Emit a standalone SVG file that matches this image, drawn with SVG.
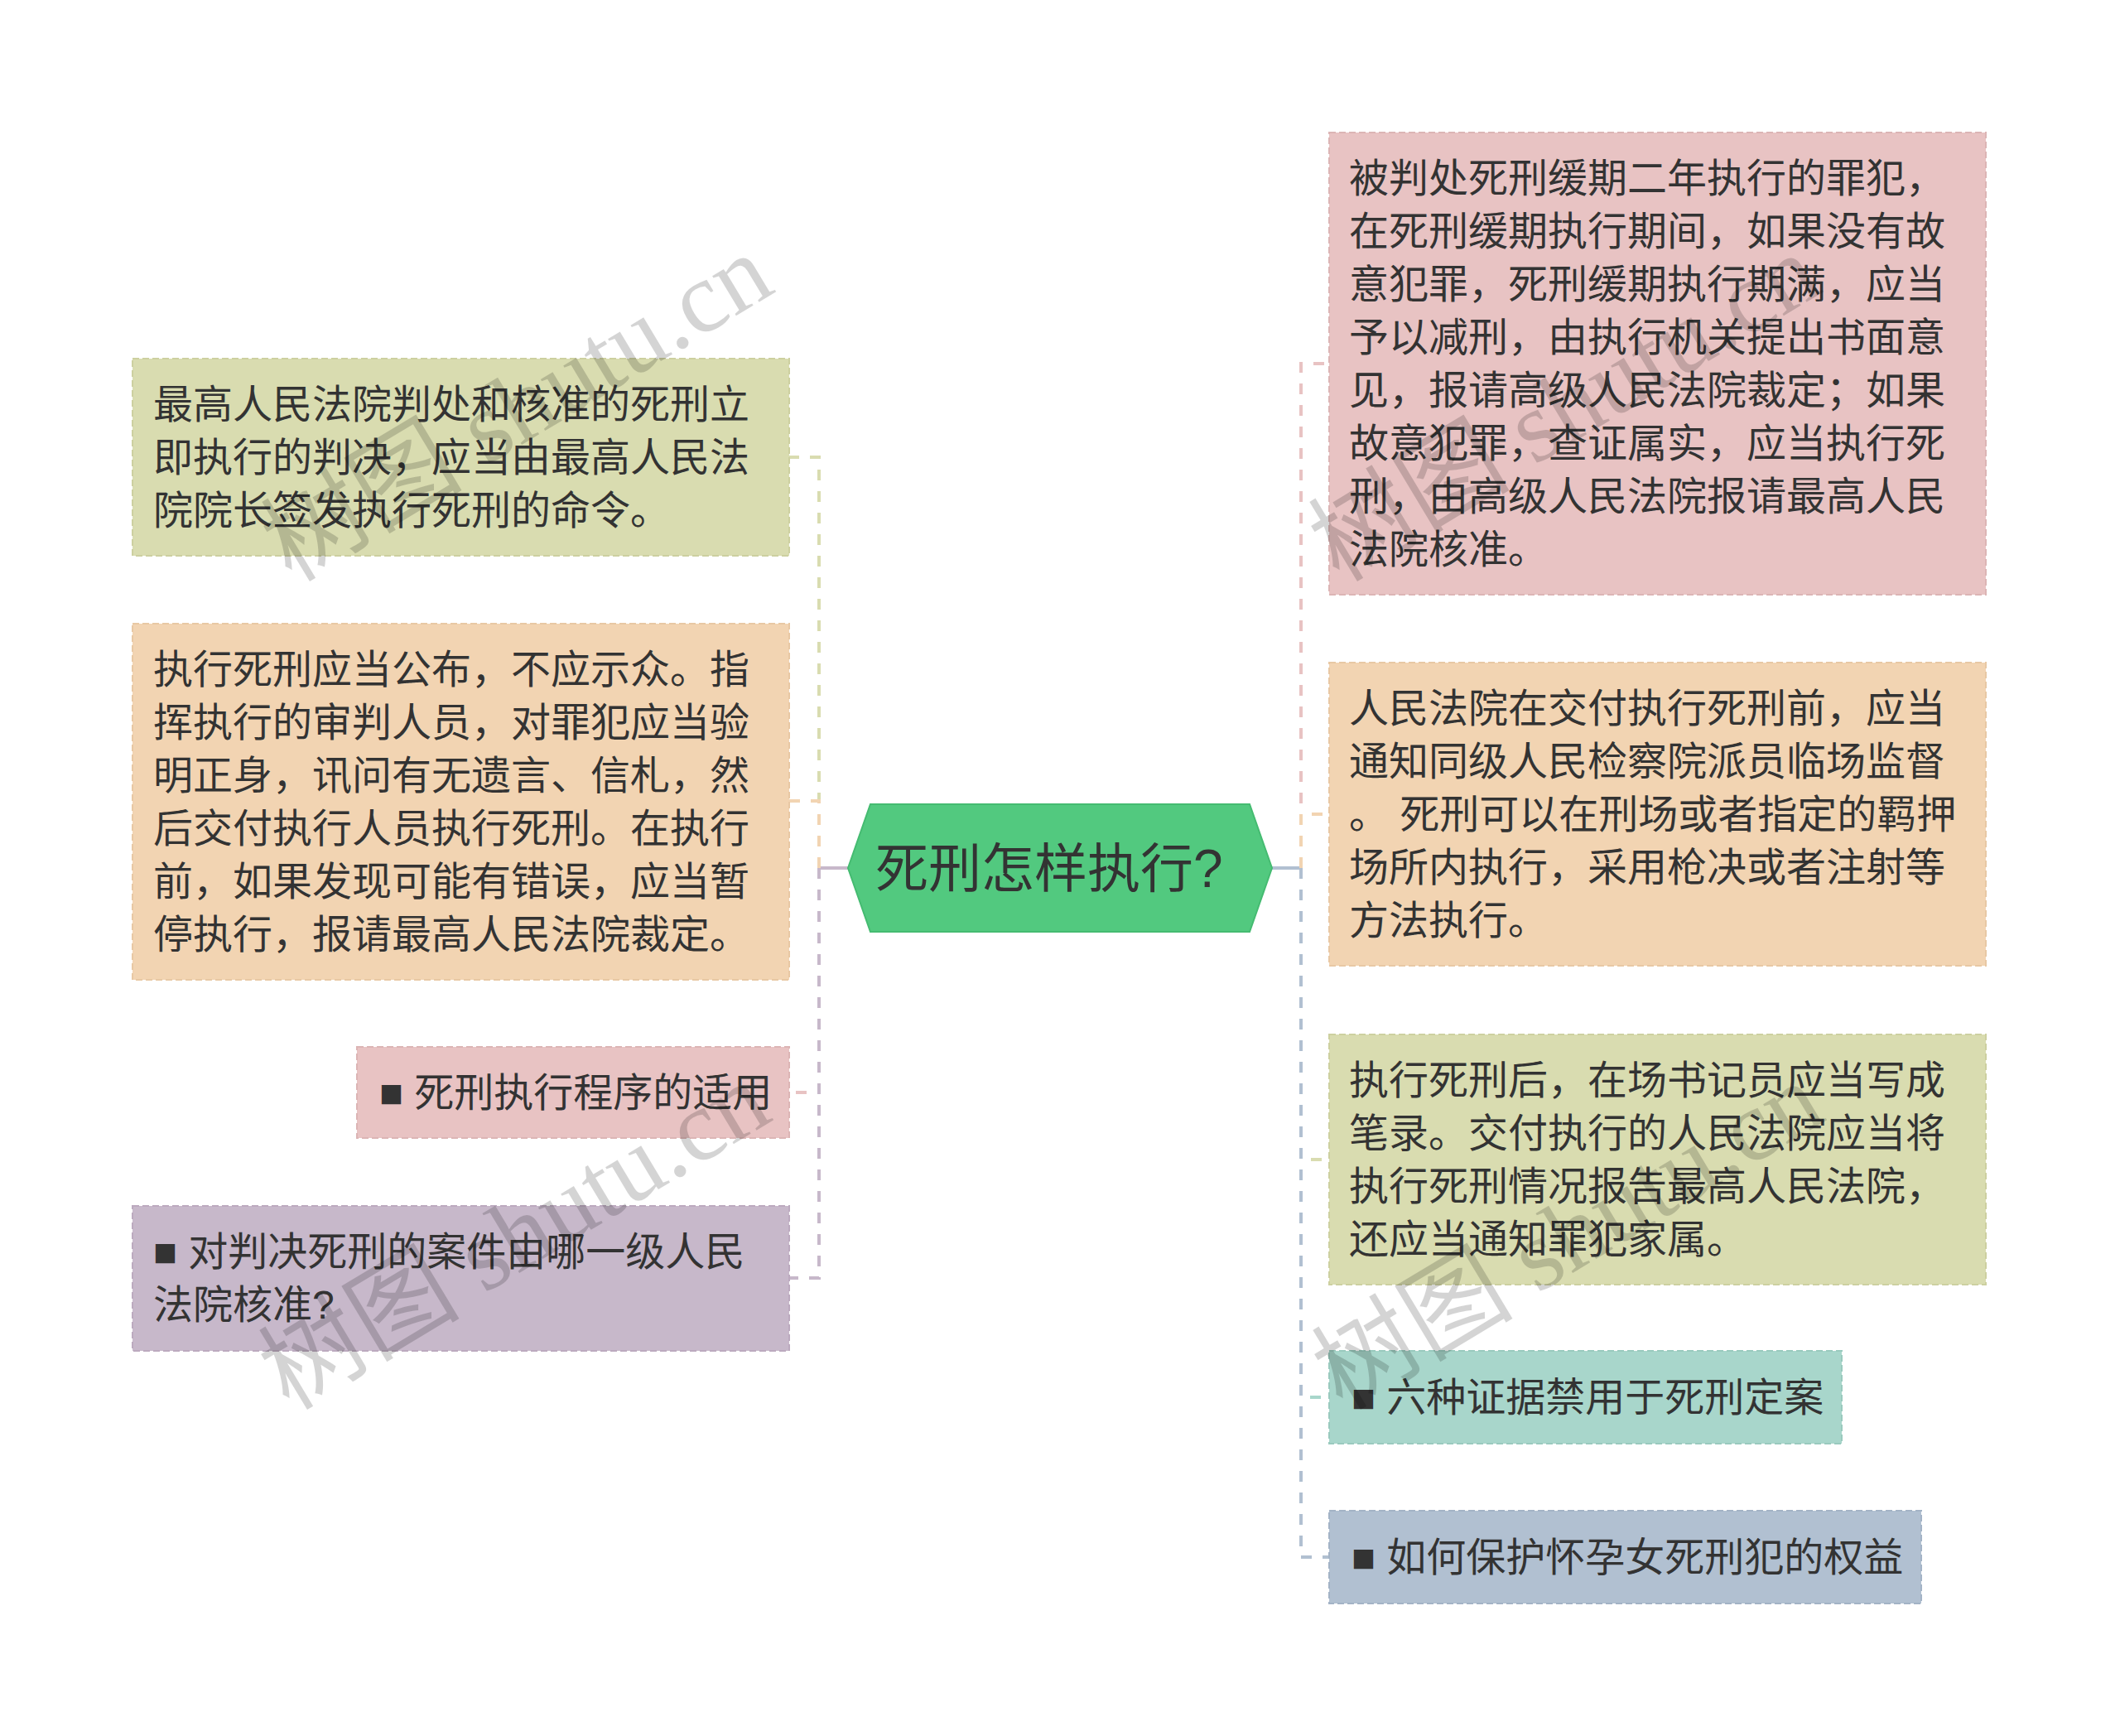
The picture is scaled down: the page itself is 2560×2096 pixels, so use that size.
<svg xmlns="http://www.w3.org/2000/svg" width="2560" height="2096" viewBox="0 0 2560 2096">
<style>
.t{font-family:"Liberation Sans","Noto Sans CJK SC",sans-serif;font-size:48px;fill:#333333}
.c{font-family:"Liberation Sans","Noto Sans CJK SC",sans-serif;font-size:64px;fill:#333333}
.box{stroke-width:2;stroke-dasharray:8 4}
.con{fill:none;stroke-width:4;stroke-dasharray:13 13}
.stub{fill:none;stroke-width:4}
.wm{font-family:"Liberation Serif","Noto Sans CJK SC",serif;font-size:122px;fill:#000000;fill-opacity:0.17}
</style>
<rect width="2560" height="2096" fill="#ffffff"/>
<g id="connectors">
<path class="stub" d="M1024 1048H989" stroke="#c7b8ca"/>
<path class="con" d="M989 1048V552H953" stroke="#d9dcb0"/>
<path class="con" d="M989 1048V967H953" stroke="#f2d4b2"/>
<path class="con" d="M989 1048V1319H953" stroke="#e8c3c3"/>
<path class="con" d="M989 1048V1543H953" stroke="#c7b8ca"/>
<path class="stub" d="M1536 1048H1571" stroke="#b1c0d1"/>
<path class="con" d="M1571 1048V439H1605" stroke="#e8c3c3"/>
<path class="con" d="M1571 1048V983H1605" stroke="#f2d4b2"/>
<path class="con" d="M1571 1048V1400H1605" stroke="#d9dcb0"/>
<path class="con" d="M1571 1048V1687H1605" stroke="#a8d6cb"/>
<path class="con" d="M1571 1048V1880H1605" stroke="#b1c0d1"/>
</g>
<g id="center">
<polygon points="1024,1048 1051,971 1509,971 1536,1048 1509,1125 1051,1125" fill="#52c97f" stroke="#45bb71" stroke-width="2"/>
<text class="c" x="1057" y="1071">死刑怎样执行?</text>
</g>
<g id="left1">
<rect class="box" x="160" y="433" width="793" height="238" fill="#d9dcb0" stroke="#cdd0a0"/>
<text class="t" x="185" y="505">最高人民法院判处和核准的死刑立</text>
<text class="t" x="185" y="569">即执行的判决，应当由最高人民法</text>
<text class="t" x="185" y="633">院院长签发执行死刑的命令。</text>
</g>
<g id="left2">
<rect class="box" x="160" y="753" width="793" height="430" fill="#f2d4b2" stroke="#e8c8a4"/>
<text class="t" x="185" y="825">执行死刑应当公布，不应示众。指</text>
<text class="t" x="185" y="889">挥执行的审判人员，对罪犯应当验</text>
<text class="t" x="185" y="953">明正身，讯问有无遗言、信札，然</text>
<text class="t" x="185" y="1017">后交付执行人员执行死刑。在执行</text>
<text class="t" x="185" y="1081">前，如果发现可能有错误，应当暂</text>
<text class="t" x="185" y="1145">停执行，报请最高人民法院裁定。</text>
</g>
<g id="left3">
<rect class="box" x="431" y="1264" width="522" height="110" fill="#e8c3c3" stroke="#dcb5b5"/>
<text class="t" x="458" y="1336">■ 死刑执行程序的适用</text>
</g>
<g id="left4">
<rect class="box" x="160" y="1456" width="793" height="175" fill="#c7b8ca" stroke="#bcaabf"/>
<text class="t" x="185" y="1528">■ 对判决死刑的案件由哪一级人民</text>
<text class="t" x="185" y="1592">法院核准?</text>
</g>
<g id="right1">
<rect class="box" x="1605" y="160" width="793" height="558" fill="#e8c3c3" stroke="#dcb5b5"/>
<text class="t" x="1629" y="232">被判处死刑缓期二年执行的罪犯，</text>
<text class="t" x="1629" y="296">在死刑缓期执行期间，如果没有故</text>
<text class="t" x="1629" y="360">意犯罪，死刑缓期执行期满，应当</text>
<text class="t" x="1629" y="424">予以减刑，由执行机关提出书面意</text>
<text class="t" x="1629" y="488">见，报请高级人民法院裁定；如果</text>
<text class="t" x="1629" y="552">故意犯罪，查证属实，应当执行死</text>
<text class="t" x="1629" y="616">刑，由高级人民法院报请最高人民</text>
<text class="t" x="1629" y="680">法院核准。</text>
</g>
<g id="right2">
<rect class="box" x="1605" y="800" width="793" height="366" fill="#f2d4b2" stroke="#e8c8a4"/>
<text class="t" x="1629" y="872">人民法院在交付执行死刑前，应当</text>
<text class="t" x="1629" y="936">通知同级人民检察院派员临场监督</text>
<text class="t" x="1629" y="1000">。 死刑可以在刑场或者指定的羁押</text>
<text class="t" x="1629" y="1064">场所内执行，采用枪决或者注射等</text>
<text class="t" x="1629" y="1128">方法执行。</text>
</g>
<g id="right3">
<rect class="box" x="1605" y="1249" width="793" height="302" fill="#d9dcb0" stroke="#cdd0a0"/>
<text class="t" x="1629" y="1321">执行死刑后，在场书记员应当写成</text>
<text class="t" x="1629" y="1385">笔录。交付执行的人民法院应当将</text>
<text class="t" x="1629" y="1449">执行死刑情况报告最高人民法院，</text>
<text class="t" x="1629" y="1513">还应当通知罪犯家属。</text>
</g>
<g id="right4">
<rect class="box" x="1605" y="1631" width="619" height="112" fill="#a8d6cb" stroke="#9acabe"/>
<text class="t" x="1632" y="1704">■ 六种证据禁用于死刑定案</text>
</g>
<g id="right5">
<rect class="box" x="1605" y="1824" width="715" height="112" fill="#b1c0d1" stroke="#a3b3c6"/>
<text class="t" x="1632" y="1897">■ 如何保护怀孕女死刑犯的权益</text>
</g>
<g id="watermarks">
<text class="wm" transform="translate(352,704) rotate(-31)">树图 shutu.cn</text>
<text class="wm" transform="translate(349,1704) rotate(-31)">树图 shutu.cn</text>
<text class="wm" transform="translate(1617,704) rotate(-31)">树图 shutu.cn</text>
<text class="wm" transform="translate(1621,1704) rotate(-31)">树图 shutu.cn</text>
</g>
</svg>
